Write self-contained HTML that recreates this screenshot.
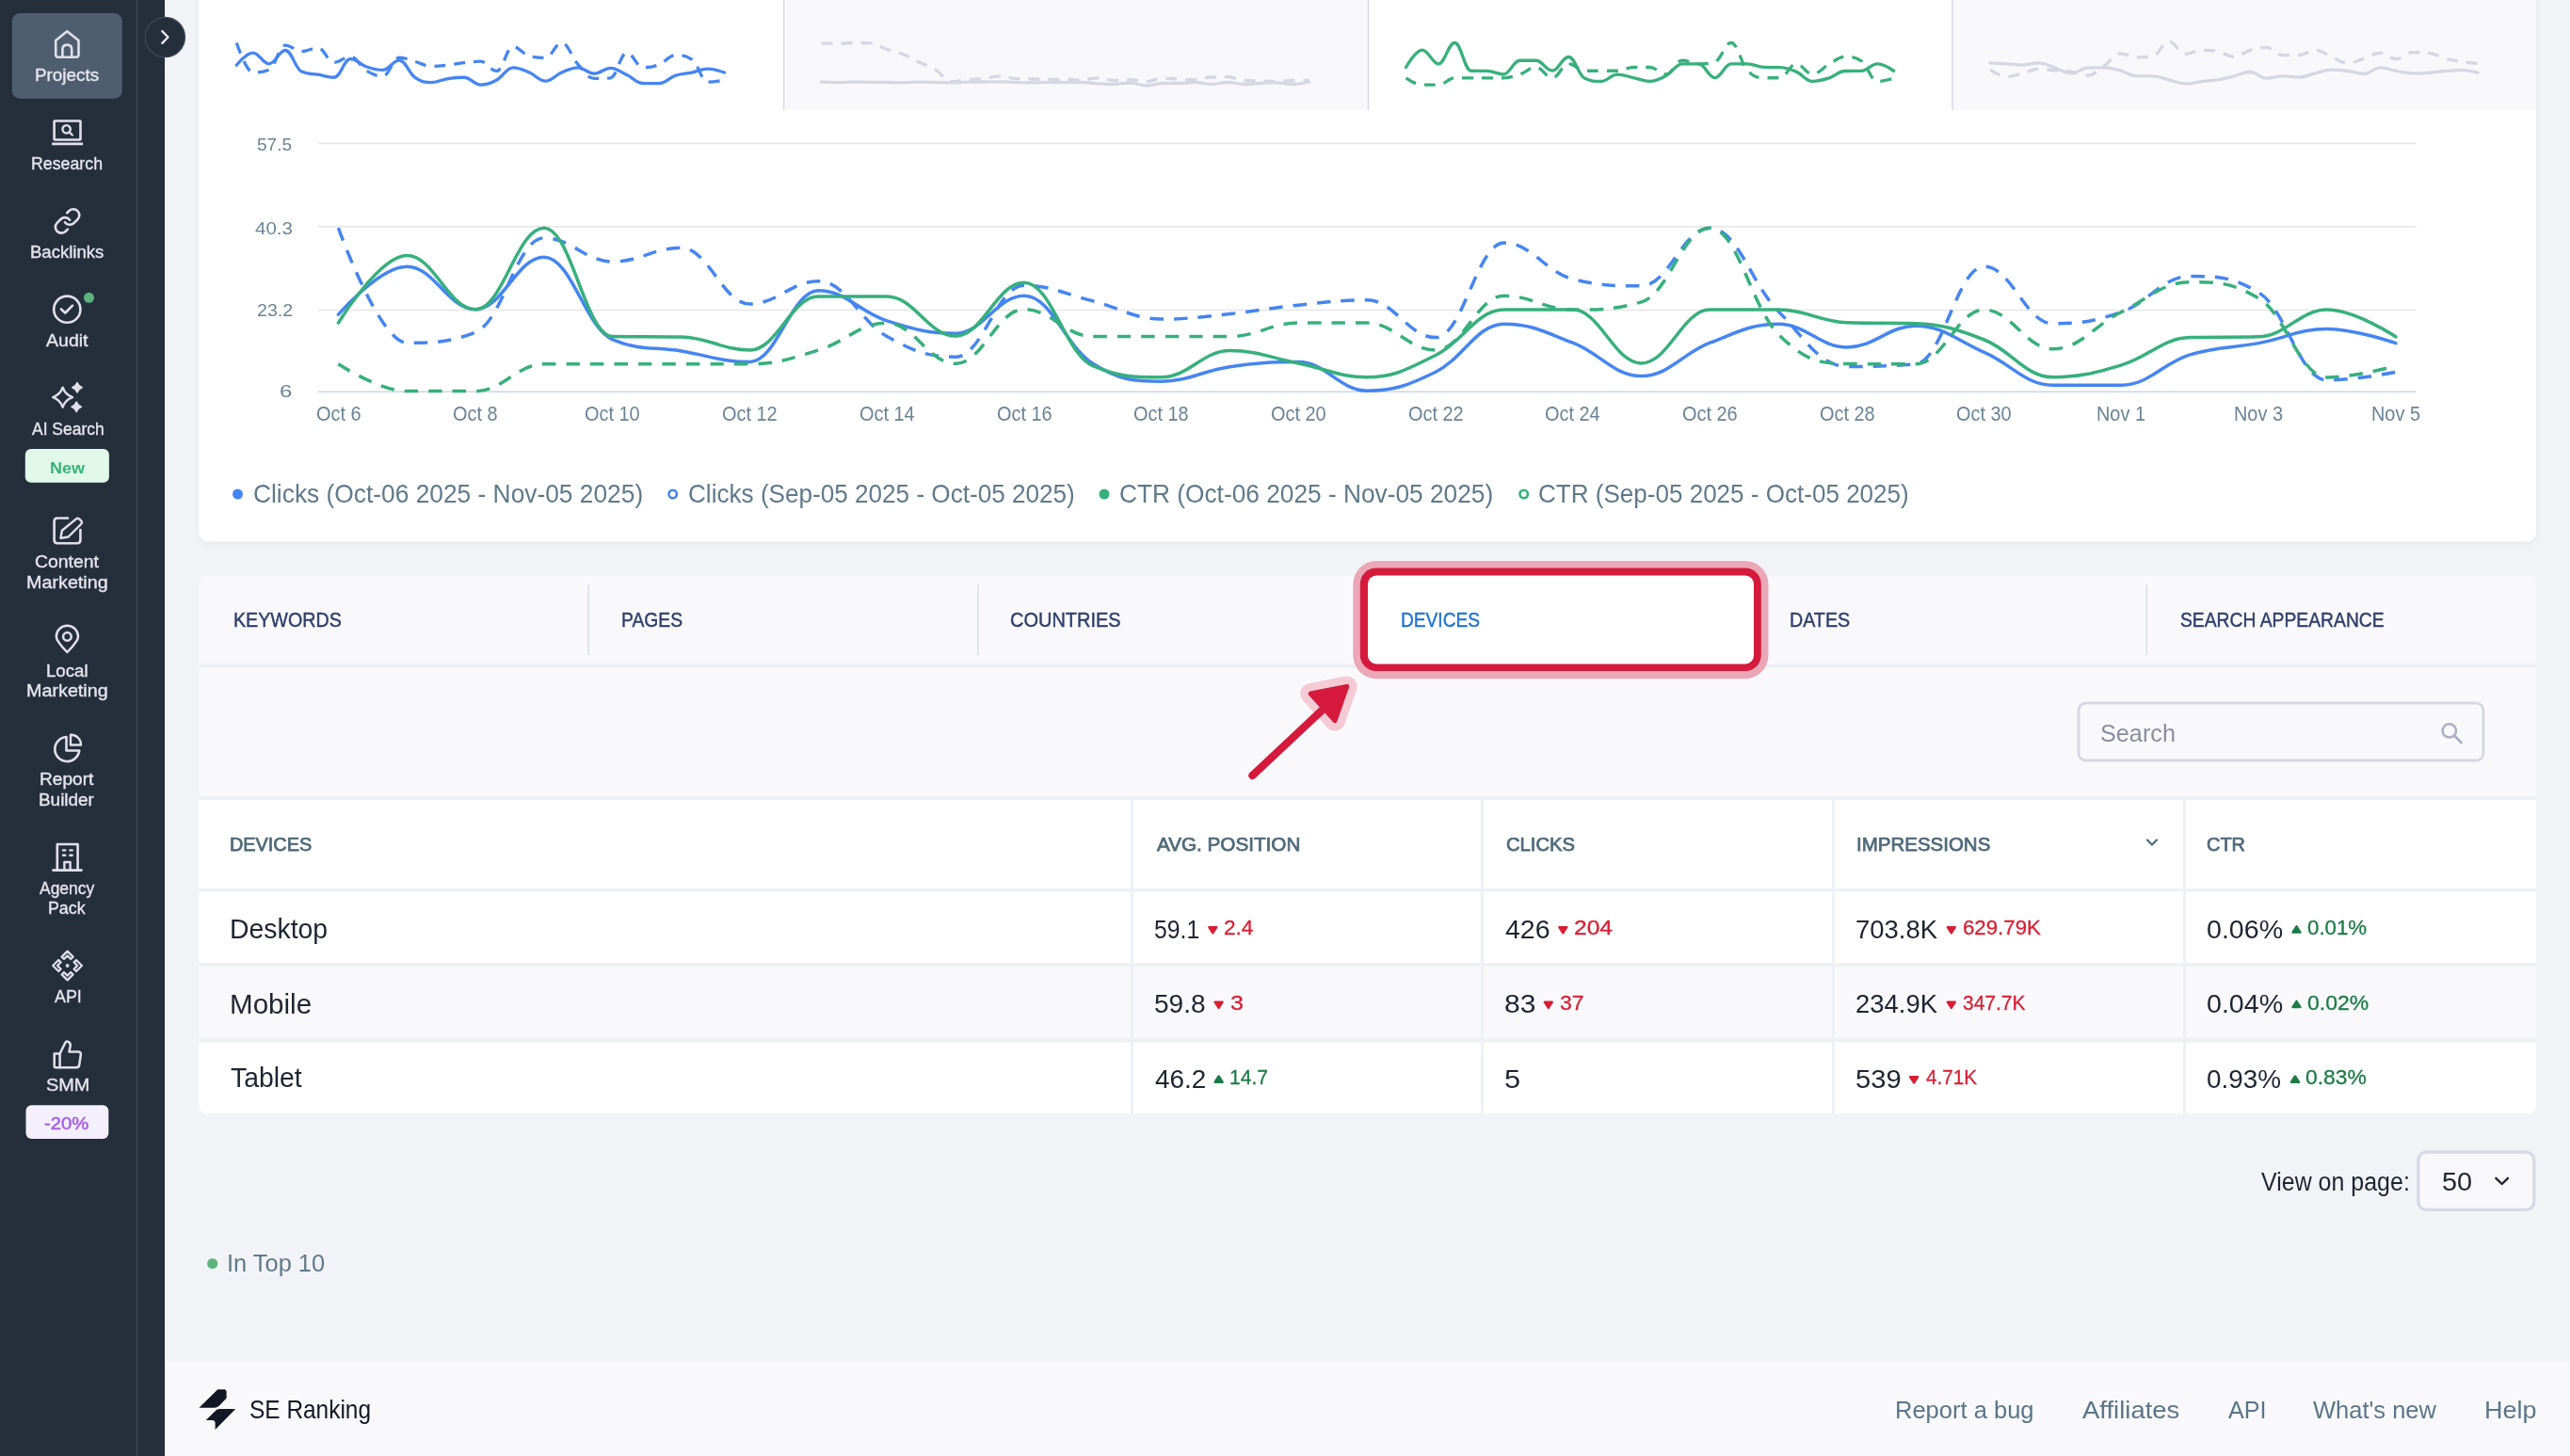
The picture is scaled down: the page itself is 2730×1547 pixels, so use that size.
<!DOCTYPE html>
<html><head><meta charset="utf-8"><style>
html,body{margin:0;padding:0;}
body{width:2730px;height:1547px;overflow:hidden;background:#f2f3f7;position:relative;font-family:"Liberation Sans",sans-serif;}
svg{position:absolute;left:0;top:0;}
.t{position:absolute;white-space:nowrap;line-height:1;transform-origin:0 50%;}
</style></head><body>
<svg width="2730" height="1547" viewBox="0 0 2730 1547">
<defs><filter id="sh" x="-5%" y="-5%" width="110%" height="120%"><feDropShadow dx="0" dy="2" stdDeviation="3" flood-color="#1a2030" flood-opacity="0.06"/></filter></defs>
<rect x="211.3" y="-20" width="2482.7" height="595.5" rx="10" fill="#fff" filter="url(#sh)"/>
<rect x="832.6" y="0" width="620.9" height="117" fill="#f8f8fb"/>
<line x1="832.6" y1="0" x2="832.6" y2="117" stroke="#dadae6" stroke-width="1.5"/>
<line x1="1453.5" y1="0" x2="1453.5" y2="117" stroke="#dadae6" stroke-width="1.5"/>
<rect x="2074.0" y="0" width="620.0" height="117" fill="#f8f8fb"/>
<line x1="2074.0" y1="0" x2="2074.0" y2="117" stroke="#dadae6" stroke-width="1.5"/>
<path d="M 251.30 45.49 C 251.30 45.49 261.66 76.96 268.57 76.96 C 275.48 76.96 278.93 76.96 285.84 74.07 C 292.75 71.18 296.20 48.22 303.11 48.22 C 310.02 48.22 313.47 54.72 320.38 54.72 C 327.29 54.72 330.74 50.91 337.65 50.91 C 344.56 50.91 348.01 66.33 354.92 66.33 C 361.83 66.33 365.28 60.06 372.19 60.06 C 379.10 60.06 382.55 71.08 389.46 75.23 C 396.37 79.39 399.82 80.83 406.73 80.83 C 413.64 80.83 417.09 61.23 424.00 61.23 C 430.91 61.23 434.36 63.66 441.27 65.51 C 448.18 67.36 451.63 70.49 458.54 70.49 C 465.45 70.49 468.90 69.81 475.81 69.04 C 482.72 68.27 486.17 67.41 493.08 66.64 C 499.99 65.88 503.44 65.22 510.35 65.22 C 517.26 65.22 520.71 75.52 527.62 75.52 C 534.53 75.52 537.98 49.59 544.89 49.59 C 551.80 49.59 555.25 57.61 562.16 59.50 C 569.07 61.38 572.52 61.38 579.43 61.38 C 586.34 61.38 589.79 45.49 596.70 45.49 C 603.61 45.49 607.06 60.78 613.97 68.37 C 620.88 75.97 624.33 83.47 631.24 83.47 C 638.15 83.47 641.60 83.47 648.51 82.77 C 655.42 82.07 658.87 56.07 665.78 56.07 C 672.69 56.07 676.14 71.70 683.05 71.70 C 689.96 71.70 693.41 71.12 700.32 68.53 C 707.23 65.93 710.68 58.72 717.59 58.72 C 724.50 58.72 727.95 58.72 734.86 63.16 C 741.77 67.60 745.22 87.21 752.13 87.21 C 759.04 87.21 769.40 84.99 769.40 84.99" fill="none" stroke="#4585f3" stroke-width="3.3" stroke-dasharray="12,9" stroke-linejoin="round"/>
<path d="M 251.30 69.22 C 251.30 69.22 261.66 56.07 268.57 56.07 C 275.48 56.07 278.93 67.80 285.84 67.80 C 292.75 67.80 296.20 53.49 303.11 53.49 C 310.02 53.49 313.47 72.94 320.38 76.09 C 327.29 79.23 330.74 78.01 337.65 79.23 C 344.56 80.46 348.01 82.23 354.92 82.23 C 361.83 82.23 365.28 62.64 372.19 62.64 C 379.10 62.64 382.55 68.60 389.46 70.95 C 396.37 73.30 399.82 74.38 406.73 74.38 C 413.64 74.38 417.09 64.09 424.00 64.09 C 430.91 64.09 434.36 77.97 441.27 82.67 C 448.18 87.36 451.63 87.54 458.54 87.54 C 465.45 87.54 468.90 84.61 475.81 83.54 C 482.72 82.48 486.17 82.23 493.08 82.23 C 499.99 82.23 503.44 90.12 510.35 90.12 C 517.26 90.12 520.71 88.63 527.62 84.96 C 534.53 81.30 537.98 71.80 544.89 71.80 C 551.80 71.80 555.25 74.10 562.16 76.96 C 569.07 79.82 572.52 86.10 579.43 86.10 C 586.34 86.10 589.79 79.82 596.70 76.96 C 603.61 74.10 607.06 71.80 613.97 71.80 C 620.88 71.80 624.33 78.20 631.24 78.20 C 638.15 78.20 641.60 72.32 648.51 72.32 C 655.42 72.32 658.87 76.34 665.78 79.60 C 672.69 82.85 676.14 88.57 683.05 88.57 C 689.96 88.57 693.41 88.57 700.32 88.57 C 707.23 88.57 710.68 82.54 717.59 80.24 C 724.50 77.94 727.95 78.49 734.86 77.07 C 741.77 75.65 745.22 73.15 752.13 73.15 C 759.04 73.15 769.40 77.07 769.40 77.07" fill="none" stroke="#4585f3" stroke-width="3.3" stroke-linecap="round" stroke-linejoin="round"/>
<path d="M 872.60 45.80 C 872.60 45.80 882.96 46.50 889.87 46.50 C 896.78 46.50 900.23 45.50 907.14 45.50 C 914.05 45.50 917.50 45.50 924.41 45.80 C 931.32 46.10 934.77 49.86 941.68 52.20 C 948.59 54.54 952.04 54.74 958.95 57.50 C 965.86 60.26 969.31 62.74 976.22 66.00 C 983.13 69.26 986.58 69.66 993.49 73.80 C 1000.40 77.94 1003.85 86.70 1010.76 86.70 C 1017.67 86.70 1021.12 85.44 1028.03 84.80 C 1034.94 84.16 1038.39 84.30 1045.30 83.50 C 1052.21 82.70 1055.66 80.80 1062.57 80.80 C 1069.48 80.80 1072.93 83.40 1079.84 83.70 C 1086.75 84.00 1090.20 83.84 1097.11 84.00 C 1104.02 84.16 1107.47 84.50 1114.38 84.50 C 1121.29 84.50 1124.74 84.20 1131.65 84.20 C 1138.56 84.20 1142.01 85.00 1148.92 85.00 C 1155.83 85.00 1159.28 82.80 1166.19 82.80 C 1173.10 82.80 1176.55 85.50 1183.46 85.50 C 1190.37 85.50 1193.82 84.70 1200.73 84.70 C 1207.64 84.70 1211.09 86.80 1218.00 86.80 C 1224.91 86.80 1228.36 83.00 1235.27 83.00 C 1242.18 83.00 1245.63 83.64 1252.54 84.00 C 1259.45 84.36 1262.90 84.80 1269.81 84.80 C 1276.72 84.80 1280.17 82.30 1287.08 82.00 C 1293.99 81.70 1297.44 81.70 1304.35 81.70 C 1311.26 81.70 1314.71 85.00 1321.62 85.50 C 1328.53 86.00 1331.98 85.80 1338.89 86.00 C 1345.80 86.20 1349.25 86.50 1356.16 86.50 C 1363.07 86.50 1366.52 85.50 1373.43 85.50 C 1380.34 85.50 1390.70 85.50 1390.70 85.50" fill="none" stroke="#d6d6e3" stroke-width="3.3" stroke-dasharray="12,9" stroke-linejoin="round"/>
<path d="M 872.60 87.20 C 872.60 87.20 882.96 87.60 889.87 87.60 C 896.78 87.60 900.23 87.00 907.14 87.00 C 914.05 87.00 917.50 87.20 924.41 87.30 C 931.32 87.40 934.77 87.40 941.68 87.50 C 948.59 87.60 952.04 87.80 958.95 87.80 C 965.86 87.80 969.31 87.10 976.22 87.10 C 983.13 87.10 986.58 87.24 993.49 87.40 C 1000.40 87.56 1003.85 87.90 1010.76 87.90 C 1017.67 87.90 1021.12 87.38 1028.03 87.20 C 1034.94 87.02 1038.39 87.08 1045.30 87.00 C 1052.21 86.92 1055.66 86.80 1062.57 86.80 C 1069.48 86.80 1072.93 87.40 1079.84 87.60 C 1086.75 87.80 1090.20 87.80 1097.11 87.80 C 1104.02 87.80 1107.47 87.40 1114.38 87.40 C 1121.29 87.40 1124.74 87.60 1131.65 87.60 C 1138.56 87.60 1142.01 87.50 1148.92 87.50 C 1155.83 87.50 1159.28 88.42 1166.19 88.80 C 1173.10 89.18 1176.55 89.40 1183.46 89.40 C 1190.37 89.40 1193.82 88.00 1200.73 88.00 C 1207.64 88.00 1211.09 91.00 1218.00 91.00 C 1224.91 91.00 1228.36 88.50 1235.27 88.50 C 1242.18 88.50 1245.63 88.50 1252.54 88.50 C 1259.45 88.50 1262.90 87.50 1269.81 87.50 C 1276.72 87.50 1280.17 89.50 1287.08 89.50 C 1293.99 89.50 1297.44 87.50 1304.35 87.50 C 1311.26 87.50 1314.71 89.50 1321.62 89.50 C 1328.53 89.50 1331.98 88.84 1338.89 88.50 C 1345.80 88.16 1349.25 87.80 1356.16 87.80 C 1363.07 87.80 1366.52 89.50 1373.43 89.50 C 1380.34 89.50 1390.70 87.00 1390.70 87.00" fill="none" stroke="#d6d6e3" stroke-width="3.3" stroke-linecap="round" stroke-linejoin="round"/>
<path d="M 1493.50 82.79 C 1493.50 82.79 1503.86 90.22 1510.77 90.22 C 1517.68 90.22 1521.13 90.22 1528.04 90.22 C 1534.95 90.22 1538.40 82.79 1545.31 82.79 C 1552.22 82.79 1555.67 82.79 1562.58 82.79 C 1569.49 82.79 1572.94 82.79 1579.85 82.79 C 1586.76 82.79 1590.21 82.79 1597.12 82.79 C 1604.03 82.79 1607.48 81.23 1614.39 78.98 C 1621.30 76.72 1624.75 71.52 1631.66 71.52 C 1638.57 71.52 1642.02 82.67 1648.93 82.67 C 1655.84 82.67 1659.29 67.80 1666.20 67.80 C 1673.11 67.80 1676.56 75.23 1683.47 75.23 C 1690.38 75.23 1693.83 75.23 1700.74 75.23 C 1707.65 75.23 1711.10 75.23 1718.01 75.23 C 1724.92 75.23 1728.37 71.52 1735.28 71.52 C 1742.19 71.52 1745.64 71.52 1752.55 71.52 C 1759.46 71.52 1762.91 78.95 1769.82 78.95 C 1776.73 78.95 1780.18 64.09 1787.09 64.09 C 1794.00 64.09 1797.45 67.91 1804.36 67.91 C 1811.27 67.91 1814.72 67.91 1821.63 65.79 C 1828.54 63.68 1831.99 45.49 1838.90 45.49 C 1845.81 45.49 1849.26 67.22 1856.17 74.67 C 1863.08 82.11 1866.53 82.67 1873.44 82.72 C 1880.35 82.77 1883.80 82.77 1890.71 82.77 C 1897.62 82.77 1901.07 67.91 1907.98 67.91 C 1914.89 67.91 1918.34 78.67 1925.25 78.67 C 1932.16 78.67 1935.61 72.20 1942.52 68.53 C 1949.43 64.86 1952.88 60.32 1959.79 60.32 C 1966.70 60.32 1970.15 60.32 1977.06 64.73 C 1983.97 69.15 1987.42 86.43 1994.33 86.43 C 2001.24 86.43 2011.60 83.28 2011.60 83.28" fill="none" stroke="#36b07c" stroke-width="3.3" stroke-dasharray="12,9" stroke-linejoin="round"/>
<path d="M 1493.50 71.49 C 1493.50 71.49 1503.86 53.05 1510.77 53.05 C 1517.68 53.05 1521.13 67.80 1528.04 67.80 C 1534.95 67.80 1538.40 45.49 1545.31 45.49 C 1552.22 45.49 1555.67 75.11 1562.58 75.23 C 1569.49 75.36 1572.94 75.23 1579.85 75.36 C 1586.76 75.49 1590.21 78.98 1597.12 78.98 C 1604.03 78.98 1607.48 64.27 1614.39 64.27 C 1621.30 64.27 1624.75 64.27 1631.66 64.27 C 1638.57 64.27 1642.02 75.11 1648.93 75.11 C 1655.84 75.11 1659.29 60.48 1666.20 60.48 C 1673.11 60.48 1676.56 80.11 1683.47 83.26 C 1690.38 86.41 1693.83 86.41 1700.74 86.41 C 1707.65 86.41 1711.10 79.13 1718.01 79.13 C 1724.92 79.13 1728.37 81.13 1735.28 82.59 C 1742.19 84.04 1745.64 86.41 1752.55 86.41 C 1759.46 86.41 1762.91 84.09 1769.82 80.39 C 1776.73 76.70 1780.18 67.91 1787.09 67.91 C 1794.00 67.91 1797.45 67.91 1804.36 67.91 C 1811.27 67.91 1814.72 82.56 1821.63 82.56 C 1828.54 82.56 1831.99 67.91 1838.90 67.91 C 1845.81 67.91 1849.26 67.91 1856.17 67.91 C 1863.08 67.91 1866.53 71.18 1873.44 71.44 C 1880.35 71.70 1883.80 71.44 1890.71 71.70 C 1897.62 71.96 1901.07 73.20 1907.98 76.14 C 1914.89 79.07 1918.34 86.38 1925.25 86.38 C 1932.16 86.38 1935.61 85.26 1942.52 83.08 C 1949.43 80.90 1952.88 75.67 1959.79 75.49 C 1966.70 75.31 1970.15 75.49 1977.06 75.31 C 1983.97 75.13 1987.42 67.91 1994.33 67.91 C 2001.24 67.91 2011.60 75.31 2011.60 75.31" fill="none" stroke="#36b07c" stroke-width="3.3" stroke-linecap="round" stroke-linejoin="round"/>
<path d="M 2114.00 74.10 C 2114.00 74.10 2124.36 81.40 2131.27 81.40 C 2138.18 81.40 2141.63 79.54 2148.54 77.90 C 2155.45 76.26 2158.90 73.20 2165.81 73.20 C 2172.72 73.20 2176.17 74.32 2183.08 74.90 C 2189.99 75.48 2193.44 75.04 2200.35 76.10 C 2207.26 77.16 2210.71 80.20 2217.62 80.20 C 2224.53 80.20 2227.98 74.98 2234.89 70.30 C 2241.80 65.62 2245.25 56.80 2252.16 56.80 C 2259.07 56.80 2262.52 60.90 2269.43 60.90 C 2276.34 60.90 2279.79 60.90 2286.70 59.80 C 2293.61 58.70 2297.06 44.00 2303.97 44.00 C 2310.88 44.00 2314.33 57.40 2321.24 57.40 C 2328.15 57.40 2331.60 53.30 2338.51 53.30 C 2345.42 53.30 2348.87 53.30 2355.78 54.50 C 2362.69 55.70 2366.14 60.30 2373.05 60.30 C 2379.96 60.30 2383.41 55.28 2390.32 53.30 C 2397.23 51.32 2400.68 50.40 2407.59 50.40 C 2414.50 50.40 2417.95 58.60 2424.86 58.60 C 2431.77 58.60 2435.22 58.60 2442.13 58.60 C 2449.04 58.60 2452.49 53.30 2459.40 53.30 C 2466.31 53.30 2469.76 57.54 2476.67 60.30 C 2483.58 63.06 2487.03 67.10 2493.94 67.10 C 2500.85 67.10 2504.30 64.26 2511.21 62.10 C 2518.12 59.94 2521.57 56.30 2528.48 56.30 C 2535.39 56.30 2538.84 62.70 2545.75 62.70 C 2552.66 62.70 2556.11 55.70 2563.02 55.70 C 2569.93 55.70 2573.38 55.70 2580.29 56.30 C 2587.20 56.90 2590.65 60.24 2597.56 62.10 C 2604.47 63.96 2607.92 64.54 2614.83 65.60 C 2621.74 66.66 2632.10 67.40 2632.10 67.40" fill="none" stroke="#d6d6e3" stroke-width="3.3" stroke-dasharray="12,9" stroke-linejoin="round"/>
<path d="M 2114.00 66.80 C 2114.00 66.80 2124.36 67.44 2131.27 67.90 C 2138.18 68.36 2141.63 69.10 2148.54 69.10 C 2155.45 69.10 2158.90 66.80 2165.81 66.80 C 2172.72 66.80 2176.17 69.78 2183.08 72.00 C 2189.99 74.22 2193.44 77.90 2200.35 77.90 C 2207.26 77.90 2210.71 72.20 2217.62 72.00 C 2224.53 71.80 2227.98 71.80 2234.89 71.80 C 2241.80 71.80 2245.25 73.10 2252.16 74.90 C 2259.07 76.70 2262.52 80.80 2269.43 80.80 C 2276.34 80.80 2279.79 80.80 2286.70 80.80 C 2293.61 80.80 2297.06 83.26 2303.97 84.90 C 2310.88 86.54 2314.33 89.00 2321.24 89.00 C 2328.15 89.00 2331.60 87.42 2338.51 86.60 C 2345.42 85.78 2348.87 86.06 2355.78 84.90 C 2362.69 83.74 2366.14 82.48 2373.05 80.80 C 2379.96 79.12 2383.41 76.50 2390.32 76.50 C 2397.23 76.50 2400.68 83.10 2407.59 83.10 C 2414.50 83.10 2417.95 80.80 2424.86 80.80 C 2431.77 80.80 2435.22 82.00 2442.13 82.00 C 2449.04 82.00 2452.49 79.48 2459.40 77.90 C 2466.31 76.32 2469.76 74.10 2476.67 74.10 C 2483.58 74.10 2487.03 74.64 2493.94 75.50 C 2500.85 76.36 2504.30 78.40 2511.21 78.40 C 2518.12 78.40 2521.57 71.80 2528.48 71.80 C 2535.39 71.80 2538.84 74.28 2545.75 75.50 C 2552.66 76.72 2556.11 77.90 2563.02 77.90 C 2569.93 77.90 2573.38 77.78 2580.29 77.30 C 2587.20 76.82 2590.65 76.08 2597.56 75.50 C 2604.47 74.92 2607.92 74.40 2614.83 74.40 C 2621.74 74.40 2632.10 77.30 2632.10 77.30" fill="none" stroke="#d6d6e3" stroke-width="3.3" stroke-linecap="round" stroke-linejoin="round"/>
<line x1="337.9" y1="152.4" x2="2566.5" y2="152.4" stroke="#e6e6e6" stroke-width="1.5"/>
<line x1="337.9" y1="240.8" x2="2566.5" y2="240.8" stroke="#e6e6e6" stroke-width="1.5"/>
<line x1="337.9" y1="329.5" x2="2566.5" y2="329.5" stroke="#e6e6e6" stroke-width="1.5"/>
<line x1="337.9" y1="416.2" x2="2566.5" y2="416.2" stroke="#ccd6eb" stroke-width="1.5"/>
<path d="M 359.40 334.20 C 359.40 334.20 403.11 283.20 432.25 283.20 C 461.39 283.20 475.96 328.70 505.10 328.70 C 534.24 328.70 548.81 273.20 577.95 273.20 C 607.09 273.20 621.66 348.60 650.80 360.80 C 679.94 373.00 694.51 368.24 723.65 373.00 C 752.79 377.76 767.36 384.60 796.50 384.60 C 825.64 384.60 840.21 308.70 869.35 308.70 C 898.49 308.70 913.06 331.80 942.20 340.90 C 971.34 350.00 985.91 354.20 1015.05 354.20 C 1044.19 354.20 1058.76 314.30 1087.90 314.30 C 1117.04 314.30 1131.61 368.12 1160.75 386.30 C 1189.89 404.48 1204.46 405.20 1233.60 405.20 C 1262.74 405.20 1277.31 393.82 1306.45 389.70 C 1335.59 385.58 1350.16 384.60 1379.30 384.60 C 1408.44 384.60 1423.01 415.20 1452.15 415.20 C 1481.29 415.20 1495.86 409.40 1525.00 395.20 C 1554.14 381.00 1568.71 344.20 1597.85 344.20 C 1626.99 344.20 1641.56 353.12 1670.70 364.20 C 1699.84 375.28 1714.41 399.60 1743.55 399.60 C 1772.69 399.60 1787.26 375.28 1816.40 364.20 C 1845.54 353.12 1860.11 344.20 1889.25 344.20 C 1918.39 344.20 1932.96 369.00 1962.10 369.00 C 1991.24 369.00 2005.81 346.20 2034.95 346.20 C 2064.09 346.20 2078.66 361.80 2107.80 374.40 C 2136.94 387.00 2151.51 409.20 2180.65 409.20 C 2209.79 409.20 2224.36 409.20 2253.50 409.20 C 2282.64 409.20 2297.21 385.82 2326.35 376.90 C 2355.49 367.98 2370.06 370.10 2399.20 364.60 C 2428.34 359.10 2442.91 349.40 2472.05 349.40 C 2501.19 349.40 2544.90 364.60 2544.90 364.60" fill="none" stroke="#4585f3" stroke-width="3.5" stroke-linecap="round" stroke-linejoin="round"/>
<path d="M 359.40 242.20 C 359.40 242.20 403.11 364.20 432.25 364.20 C 461.39 364.20 475.96 364.20 505.10 353.00 C 534.24 341.80 548.81 252.80 577.95 252.80 C 607.09 252.80 621.66 278.00 650.80 278.00 C 679.94 278.00 694.51 263.20 723.65 263.20 C 752.79 263.20 767.36 323.00 796.50 323.00 C 825.64 323.00 840.21 298.70 869.35 298.70 C 898.49 298.70 913.06 341.40 942.20 357.50 C 971.34 373.60 985.91 379.20 1015.05 379.20 C 1044.19 379.20 1058.76 303.20 1087.90 303.20 C 1117.04 303.20 1131.61 312.62 1160.75 319.80 C 1189.89 326.98 1204.46 339.10 1233.60 339.10 C 1262.74 339.10 1277.31 336.48 1306.45 333.50 C 1335.59 330.52 1350.16 327.16 1379.30 324.20 C 1408.44 321.24 1423.01 318.70 1452.15 318.70 C 1481.29 318.70 1495.86 358.60 1525.00 358.60 C 1554.14 358.60 1568.71 258.10 1597.85 258.10 C 1626.99 258.10 1641.56 289.20 1670.70 296.50 C 1699.84 303.80 1714.41 303.80 1743.55 303.80 C 1772.69 303.80 1787.26 242.20 1816.40 242.20 C 1845.54 242.20 1860.11 301.46 1889.25 330.90 C 1918.39 360.34 1932.96 389.40 1962.10 389.40 C 1991.24 389.40 2005.81 389.40 2034.95 386.70 C 2064.09 384.00 2078.66 283.20 2107.80 283.20 C 2136.94 283.20 2151.51 343.80 2180.65 343.80 C 2209.79 343.80 2224.36 341.56 2253.50 331.50 C 2282.64 321.44 2297.21 293.50 2326.35 293.50 C 2355.49 293.50 2370.06 293.50 2399.20 310.70 C 2428.34 327.90 2442.91 403.90 2472.05 403.90 C 2501.19 403.90 2544.90 395.30 2544.90 395.30" fill="none" stroke="#4585f3" stroke-width="3.5" stroke-dasharray="14.5,11" stroke-linejoin="round"/>
<path d="M 359.40 343.00 C 359.40 343.00 403.11 271.50 432.25 271.50 C 461.39 271.50 475.96 328.70 505.10 328.70 C 534.24 328.70 548.81 242.20 577.95 242.20 C 607.09 242.20 621.66 357.00 650.80 357.50 C 679.94 358.00 694.51 357.50 723.65 358.00 C 752.79 358.50 767.36 372.00 796.50 372.00 C 825.64 372.00 840.21 315.00 869.35 315.00 C 898.49 315.00 913.06 315.00 942.20 315.00 C 971.34 315.00 985.91 357.00 1015.05 357.00 C 1044.19 357.00 1058.76 300.30 1087.90 300.30 C 1117.04 300.30 1131.61 376.40 1160.75 388.60 C 1189.89 400.80 1204.46 400.80 1233.60 400.80 C 1262.74 400.80 1277.31 372.60 1306.45 372.60 C 1335.59 372.60 1350.16 380.36 1379.30 386.00 C 1408.44 391.64 1423.01 400.80 1452.15 400.80 C 1481.29 400.80 1495.86 391.84 1525.00 377.50 C 1554.14 363.16 1568.71 329.10 1597.85 329.10 C 1626.99 329.10 1641.56 329.10 1670.70 329.10 C 1699.84 329.10 1714.41 385.90 1743.55 385.90 C 1772.69 385.90 1787.26 329.10 1816.40 329.10 C 1845.54 329.10 1860.11 329.10 1889.25 329.10 C 1918.39 329.10 1932.96 341.80 1962.10 342.80 C 1991.24 343.80 2005.81 342.80 2034.95 343.80 C 2064.09 344.80 2078.66 349.62 2107.80 361.00 C 2136.94 372.38 2151.51 400.70 2180.65 400.70 C 2209.79 400.70 2224.36 396.34 2253.50 387.90 C 2282.64 379.46 2297.21 359.20 2326.35 358.50 C 2355.49 357.80 2370.06 358.50 2399.20 357.80 C 2428.34 357.10 2442.91 329.10 2472.05 329.10 C 2501.19 329.10 2544.90 357.80 2544.90 357.80" fill="none" stroke="#36b07c" stroke-width="3.5" stroke-linecap="round" stroke-linejoin="round"/>
<path d="M 359.40 386.80 C 359.40 386.80 403.11 415.60 432.25 415.60 C 461.39 415.60 475.96 415.60 505.10 415.60 C 534.24 415.60 548.81 386.80 577.95 386.80 C 607.09 386.80 621.66 386.80 650.80 386.80 C 679.94 386.80 694.51 386.80 723.65 386.80 C 752.79 386.80 767.36 386.80 796.50 386.80 C 825.64 386.80 840.21 380.74 869.35 372.00 C 898.49 363.26 913.06 343.10 942.20 343.10 C 971.34 343.10 985.91 386.30 1015.05 386.30 C 1044.19 386.30 1058.76 328.70 1087.90 328.70 C 1117.04 328.70 1131.61 357.50 1160.75 357.50 C 1189.89 357.50 1204.46 357.50 1233.60 357.50 C 1262.74 357.50 1277.31 357.50 1306.45 357.50 C 1335.59 357.50 1350.16 343.10 1379.30 343.10 C 1408.44 343.10 1423.01 343.10 1452.15 343.10 C 1481.29 343.10 1495.86 371.90 1525.00 371.90 C 1554.14 371.90 1568.71 314.30 1597.85 314.30 C 1626.99 314.30 1641.56 329.10 1670.70 329.10 C 1699.84 329.10 1714.41 329.10 1743.55 320.90 C 1772.69 312.70 1787.26 242.20 1816.40 242.20 C 1845.54 242.20 1860.11 326.44 1889.25 355.30 C 1918.39 384.16 1932.96 386.30 1962.10 386.50 C 1991.24 386.70 2005.81 386.70 2034.95 386.70 C 2064.09 386.70 2078.66 329.10 2107.80 329.10 C 2136.94 329.10 2151.51 370.80 2180.65 370.80 C 2209.79 370.80 2224.36 345.72 2253.50 331.50 C 2282.64 317.28 2297.21 299.70 2326.35 299.70 C 2355.49 299.70 2370.06 299.70 2399.20 316.80 C 2428.34 333.90 2442.91 400.90 2472.05 400.90 C 2501.19 400.90 2544.90 388.70 2544.90 388.70" fill="none" stroke="#36b07c" stroke-width="3.5" stroke-dasharray="14.5,11" stroke-linejoin="round"/>
<circle cx="252.5" cy="525" r="5.5" fill="#4585f3"/>
<circle cx="714.7" cy="525" r="4.2" fill="#fff" stroke="#4585f3" stroke-width="2.6"/>
<circle cx="1173" cy="525" r="5.5" fill="#36b07c"/>
<circle cx="1618.7" cy="525" r="4.2" fill="#fff" stroke="#36b07c" stroke-width="2.6"/>
<rect x="211.3" y="611.5" width="2482.7" height="571.8" rx="9" fill="#eef0f4"/>
<path d="M211.3 705.4 V620.5 Q211.3 611.5 220.3 611.5 H2685 Q2694 611.5 2694 620.5 V705.4 Z" fill="#f9f9fc"/>
<line x1="625.1" y1="621" x2="625.1" y2="696" stroke="#d9dce6" stroke-width="1.5"/>
<line x1="1038.9" y1="621" x2="1038.9" y2="696" stroke="#d9dce6" stroke-width="1.5"/>
<line x1="2280.3" y1="621" x2="2280.3" y2="696" stroke="#d9dce6" stroke-width="1.5"/>
<rect x="211.3" y="709.6" width="2482.7" height="136.2" fill="#f9f9fc"/>
<rect x="2208" y="747" width="430" height="61" rx="8" fill="#f9f9fb" stroke="#d6d6e4" stroke-width="2.8"/>
<circle cx="2601.8" cy="776.4" r="7.2" fill="none" stroke="#aeaec4" stroke-width="2.5"/>
<line x1="2607.2" y1="781.8" x2="2614.5" y2="789" stroke="#aeaec4" stroke-width="2.8" stroke-linecap="round"/>
<rect x="211.3" y="849.9" width="989.7" height="94.2" fill="#fff"/>
<rect x="1204.0" y="849.9" width="369.0" height="94.2" fill="#fff"/>
<rect x="1576.0" y="849.9" width="370.0" height="94.2" fill="#fff"/>
<rect x="1949.0" y="849.9" width="370.0" height="94.2" fill="#fff"/>
<rect x="2322.0" y="849.9" width="372.0" height="94.2" fill="#fff"/>
<rect x="211.3" y="947.6" width="989.7" height="75.6" fill="#fff"/>
<rect x="1204.0" y="947.6" width="369.0" height="75.6" fill="#fff"/>
<rect x="1576.0" y="947.6" width="370.0" height="75.6" fill="#fff"/>
<rect x="1949.0" y="947.6" width="370.0" height="75.6" fill="#fff"/>
<rect x="2322.0" y="947.6" width="372.0" height="75.6" fill="#fff"/>
<rect x="211.3" y="1026.8" width="989.7" height="75.8" fill="#f9f9fb"/>
<rect x="1204.0" y="1026.8" width="369.0" height="75.8" fill="#f9f9fb"/>
<rect x="1576.0" y="1026.8" width="370.0" height="75.8" fill="#f9f9fb"/>
<rect x="1949.0" y="1026.8" width="370.0" height="75.8" fill="#f9f9fb"/>
<rect x="2322.0" y="1026.8" width="372.0" height="75.8" fill="#f9f9fb"/>
<path d="M211.3 1107.4 H1201.0 V1183.3 H220.3 Q211.3 1183.3 211.3 1174.3 Z" fill="#fff"/>
<rect x="1204.0" y="1107.4" width="369.0" height="75.9" fill="#fff"/>
<rect x="1576.0" y="1107.4" width="370.0" height="75.9" fill="#fff"/>
<rect x="1949.0" y="1107.4" width="370.0" height="75.9" fill="#fff"/>
<path d="M2322.0 1107.4 H2694.0 V1174.3 Q2694.0 1183.3 2685.0 1183.3 H2322.0 Z" fill="#fff"/>
<rect x="1437.3" y="595.9" width="441.2" height="125.3" rx="25" fill="#eaa7b5"/>
<rect x="1444.8" y="603.4" width="426" height="109.6" rx="17" fill="#d51a3d"/>
<rect x="1453" y="611.5" width="410" height="93.9" rx="9" fill="#fff"/>
<path d="M2281 892.5 L2286 897.5 L2291 892.5" fill="none" stroke="#4f6a78" stroke-width="2.2" stroke-linecap="round" stroke-linejoin="round"/>
<rect x="2568.9" y="1224.1" width="123.0" height="61.2" rx="8.5" fill="#f8f8fb" stroke="#d7d7e5" stroke-width="3.2"/>
<path d="M2651.4 1251.8 L2657.7 1258 L2664 1251.8" fill="none" stroke="#1e2530" stroke-width="2.4" stroke-linecap="round" stroke-linejoin="round"/>
<circle cx="225.7" cy="1342.5" r="5.6" fill="#5db37f"/>
<rect x="175" y="1447" width="2555" height="100" fill="#f9f9fb"/>
<path d="M211.4 1495.8 L231.3 1476.2 H238.5 Q240.6 1476.2 240.6 1478.8 V1485.5 L233.5 1493.1 Q231 1495.8 228 1495.8 Z" fill="#141824"/>
<path d="M218.75 1509 L228.1 1499.8 Q230 1496.9 233 1496.9 H250.2 L228.6 1519 V1511.5 Q228.3 1509 226 1509 Z" fill="#141824"/>
<path d="M1392.2 737 L1430.7 729.4 L1418 765.6 Z" fill="#f4cbd4" stroke="#f4cbd4" stroke-width="22" stroke-linejoin="round"/>
<line x1="1330.4" y1="824" x2="1405" y2="754" stroke="#d51a3d" stroke-width="8.2" stroke-linecap="round"/>
<path d="M1392.2 737 L1430.7 729.4 L1418 765.6 Z" fill="#d51a3d" stroke="#d51a3d" stroke-width="5" stroke-linejoin="round"/>
<rect x="0" y="0" width="175" height="1547" fill="#252f3c"/>
<line x1="145.6" y1="0" x2="145.6" y2="1547" stroke="#3a4553" stroke-width="1.5"/>
<rect x="12.8" y="14.1" width="117" height="90.7" rx="8.5" fill="#4f5e6f"/>
<circle cx="175.3" cy="39.5" r="21.2" fill="#252f3c" stroke="#3e4a58" stroke-width="1.2"/>
<path d="M172.3 33.2 L178.5 39.5 L172.3 45.8" fill="none" stroke="#e8e9ef" stroke-width="2.4" stroke-linecap="round" stroke-linejoin="round"/>
<path d="M59.2 43 L71.3 33.3 L83.5 43 V58 Q83.5 60.8 80.7 60.8 H62 Q59.2 60.8 59.2 58 Z" fill="none" stroke="#dfe0ea" stroke-width="2.6" stroke-linecap="round" stroke-linejoin="round" />
<path d="M66.4 60.8 V52.5 Q66.4 47.6 71.3 47.6 Q76.2 47.6 76.2 52.5 V60.8" fill="none" stroke="#dfe0ea" stroke-width="2.6" stroke-linecap="round" stroke-linejoin="round" />
<path d="M58.2 128.5 H85 Q85.5 128.5 85.5 129 V148 Q85.5 148.5 85 148.5 H58.2 Q57.6 148.5 57.6 148 V129 Q57.6 128.5 58.2 128.5 Z" fill="none" stroke="#dfe0ea" stroke-width="2.6" stroke-linecap="round" stroke-linejoin="round" />
<path d="M55.1 152.9 H88.1" stroke="#dfe0ea" stroke-width="2.8"/>
<path d="M70.6 137.3 m-4.2 0 a4.2 4.2 0 1 0 8.4 0 a4.2 4.2 0 1 0 -8.4 0 M73.8 140.5 L76.8 143.5" fill="none" stroke="#dfe0ea" stroke-width="2.4" stroke-linecap="round" stroke-linejoin="round" />
<g transform="translate(56.2,219.6) scale(1.28)"><path d="M10 13a5 5 0 0 0 7.54.54l3-3a5 5 0 0 0-7.07-7.07l-1.72 1.71" fill="none" stroke="#dfe0ea" stroke-width="2.05" stroke-linecap="round" stroke-linejoin="round"/><path d="M14 11a5 5 0 0 0-7.54-.54l-3 3a5 5 0 0 0 7.07 7.07l1.71-1.71" fill="none" stroke="#dfe0ea" stroke-width="2.05" stroke-linecap="round" stroke-linejoin="round"/></g>
<circle cx="71.3" cy="328.7" r="14.1" fill="none" stroke="#dfe0ea" stroke-width="2.6"/>
<path d="M65 328.5 L69.3 332.5 L77 324.6" fill="none" stroke="#dfe0ea" stroke-width="2.6" stroke-linecap="round" stroke-linejoin="round" />
<circle cx="94.5" cy="316.3" r="5.5" fill="#5db37f"/>
<path d="M66.60 411.70 Q69.30 419.40 77.00 422.10 Q69.30 424.80 66.60 432.50 Q63.90 424.80 56.20 422.10 Q63.90 419.40 66.60 411.70 Z" fill="none" stroke="#dfe0ea" stroke-width="2.5" stroke-linecap="round" stroke-linejoin="round" />
<path d="M82.00 406.60 Q83.46 410.34 87.20 411.80 Q83.46 413.26 82.00 417.00 Q80.54 413.26 76.80 411.80 Q80.54 410.34 82.00 406.60 Z" fill="#dfe0ea" stroke="#dfe0ea" stroke-width="1.5" stroke-linejoin="round"/>
<path d="M81.20 427.10 Q82.66 430.84 86.40 432.30 Q82.66 433.76 81.20 437.50 Q79.74 433.76 76.00 432.30 Q79.74 430.84 81.20 427.10 Z" fill="#dfe0ea" stroke="#dfe0ea" stroke-width="1.5" stroke-linejoin="round"/>
<rect x="26.8" y="477" width="89.1" height="35.7" rx="6" fill="#e2f8e9"/>
<path d="M72 550.5 H61 Q57.6 550.5 57.6 554 V573.8 Q57.6 577.2 61 577.2 H82 Q85.4 577.2 85.4 573.8 V563" fill="none" stroke="#dfe0ea" stroke-width="2.6" stroke-linecap="round" stroke-linejoin="round" />
<path d="M80.6 551.6 Q82.5 549.7 84.4 551.6 L86 553.2 Q87.9 555.1 86 557 L72.5 570.5 L64.5 571.8 L65.8 563.8 Z" fill="none" stroke="#dfe0ea" stroke-width="2.4" stroke-linecap="round" stroke-linejoin="round" />
<path d="M71.4 693 Q59.8 681 59.8 676.4 A11.6 11.6 0 0 1 83 676.4 Q83 681 71.4 693 Z" fill="none" stroke="#dfe0ea" stroke-width="2.5" stroke-linecap="round" stroke-linejoin="round" />
<circle cx="71.4" cy="676.4" r="4.3" fill="none" stroke="#dfe0ea" stroke-width="2.5"/>
<path d="M70.5 783 A13 13 0 1 0 84.2 797.5 H70.5 Z" fill="none" stroke="#dfe0ea" stroke-width="2.6" stroke-linecap="round" stroke-linejoin="round" />
<path d="M75 780.8 A10.5 10.5 0 0 1 86 791.5 H75 Z" fill="none" stroke="#dfe0ea" stroke-width="2.4" stroke-linecap="round" stroke-linejoin="round" />
<path d="M60.8 924.3 V897 H82.6 V924.3" fill="none" stroke="#dfe0ea" stroke-width="2.6" stroke-linecap="round" stroke-linejoin="round" />
<path d="M56.5 924.6 H86.5" fill="none" stroke="#dfe0ea" stroke-width="2.8" stroke-linecap="round" stroke-linejoin="round" />
<path d="M67 903.4 H69.3 M74.4 903.4 H76.7 M67 908.8 H69.3 M74.4 908.8 H76.7" fill="none" stroke="#dfe0ea" stroke-width="2.4" stroke-linecap="round" stroke-linejoin="round" />
<path d="M68.4 924.3 V916 H74.6 V924.3" fill="none" stroke="#dfe0ea" stroke-width="2.4" stroke-linecap="round" stroke-linejoin="round" />
<path d="M66.8 1016 L71.6 1011.3 L76.4 1016 M64 1019 L71.6 1011.3" fill="none" stroke="#dfe0ea" stroke-width="0" stroke-linecap="round" stroke-linejoin="round" />
<g fill="none" stroke="#dfe0ea" stroke-width="2.2" stroke-linejoin="round"><path d="M65.6 1016.6 L71.6 1010.6 L77.6 1016.6 L75.2 1019 L71.6 1015.4 L68 1019 Z"/><path d="M65.6 1035.4 L71.6 1041.4 L77.6 1035.4 L75.2 1033 L71.6 1036.6 L68 1033 Z"/><path d="M62.2 1020 L56.2 1026 L62.2 1032 L64.6 1029.6 L61 1026 L64.6 1022.4 Z"/><path d="M81 1020 L87 1026 L81 1032 L78.6 1029.6 L82.2 1026 L78.6 1022.4 Z"/></g>
<circle cx="71.6" cy="1026" r="1.9" fill="#dfe0ea"/>
<path d="M57.7 1119.5 H63.6 V1134.3 H59.2 Q57.7 1134.3 57.7 1132.8 Z" fill="none" stroke="#dfe0ea" stroke-width="2.5" stroke-linecap="round" stroke-linejoin="round" />
<path d="M63.6 1119.5 L69.5 1107.5 Q70.3 1106 71.8 1106.6 Q75.5 1108 74.6 1112 L73.4 1117.5 H83 Q86.3 1117.5 85.8 1120.8 L84.2 1131.5 Q83.8 1134.3 81 1134.3 H63.6" fill="none" stroke="#dfe0ea" stroke-width="2.5" stroke-linecap="round" stroke-linejoin="round" />
<rect x="27.5" y="1174.3" width="87.8" height="35.7" rx="6" fill="#f3effd"/>
<path d="M1284.30 985.20 L1292.30 985.20 L1288.30 991.30 Z" fill="#d81e34" stroke="#d81e34" stroke-width="2.4" stroke-linejoin="round"/>
<path d="M1656.30 985.20 L1664.30 985.20 L1660.30 991.30 Z" fill="#d81e34" stroke="#d81e34" stroke-width="2.4" stroke-linejoin="round"/>
<path d="M2068.80 985.20 L2076.80 985.20 L2072.80 991.30 Z" fill="#d81e34" stroke="#d81e34" stroke-width="2.4" stroke-linejoin="round"/>
<path d="M2435.50 990.60 L2443.50 990.60 L2439.50 984.30 Z" fill="#1c7b47" stroke="#1c7b47" stroke-width="2.4" stroke-linejoin="round"/>
<path d="M1290.60 1064.70 L1298.60 1064.70 L1294.60 1070.80 Z" fill="#d81e34" stroke="#d81e34" stroke-width="2.4" stroke-linejoin="round"/>
<path d="M1640.80 1064.70 L1648.80 1064.70 L1644.80 1070.80 Z" fill="#d81e34" stroke="#d81e34" stroke-width="2.4" stroke-linejoin="round"/>
<path d="M2068.80 1064.70 L2076.80 1064.70 L2072.80 1070.80 Z" fill="#d81e34" stroke="#d81e34" stroke-width="2.4" stroke-linejoin="round"/>
<path d="M2435.50 1070.10 L2443.50 1070.10 L2439.50 1063.80 Z" fill="#1c7b47" stroke="#1c7b47" stroke-width="2.4" stroke-linejoin="round"/>
<path d="M1290.60 1149.70 L1298.60 1149.70 L1294.60 1143.40 Z" fill="#1c7b47" stroke="#1c7b47" stroke-width="2.4" stroke-linejoin="round"/>
<path d="M2029.10 1144.30 L2037.10 1144.30 L2033.10 1150.40 Z" fill="#d81e34" stroke="#d81e34" stroke-width="2.4" stroke-linejoin="round"/>
<path d="M2434.00 1149.70 L2442.00 1149.70 L2438.00 1143.40 Z" fill="#1c7b47" stroke="#1c7b47" stroke-width="2.4" stroke-linejoin="round"/>
</svg>
<div class="t" style="left:36.94px;top:72.09px;font-size:17.73px;color:#e4e5ed;transform:scaleX(1.0633);-webkit-text-stroke:0.35px #e4e5ed;">Projects</div>
<div class="t" style="left:33.23px;top:165.89px;font-size:17.73px;color:#e4e5ed;transform:scaleX(1.0024);-webkit-text-stroke:0.35px #e4e5ed;">Research</div>
<div class="t" style="left:31.76px;top:260.09px;font-size:17.73px;color:#e4e5ed;transform:scaleX(1.0469);-webkit-text-stroke:0.35px #e4e5ed;">Backlinks</div>
<div class="t" style="left:49.20px;top:354.19px;font-size:17.73px;color:#e4e5ed;transform:scaleX(1.1030);-webkit-text-stroke:0.35px #e4e5ed;">Audit</div>
<div class="t" style="left:33.60px;top:448.09px;font-size:17.73px;color:#e4e5ed;transform:scaleX(0.9857);-webkit-text-stroke:0.35px #e4e5ed;">AI Search</div>
<div class="t" style="left:52.53px;top:489.16px;font-size:17.30px;color:#35b47b;font-weight:700;transform:scaleX(1.0404);">New</div>
<div class="t" style="left:36.98px;top:589.29px;font-size:17.73px;color:#e4e5ed;transform:scaleX(1.0951);-webkit-text-stroke:0.35px #e4e5ed;">Content</div>
<div class="t" style="left:28.17px;top:610.59px;font-size:17.73px;color:#e4e5ed;transform:scaleX(1.1146);-webkit-text-stroke:0.35px #e4e5ed;">Marketing</div>
<div class="t" style="left:49.16px;top:704.59px;font-size:17.73px;color:#e4e5ed;transform:scaleX(1.0525);-webkit-text-stroke:0.35px #e4e5ed;">Local</div>
<div class="t" style="left:28.17px;top:725.99px;font-size:17.73px;color:#e4e5ed;transform:scaleX(1.1146);-webkit-text-stroke:0.35px #e4e5ed;">Marketing</div>
<div class="t" style="left:42.07px;top:820.49px;font-size:17.73px;color:#e4e5ed;transform:scaleX(1.0795);-webkit-text-stroke:0.35px #e4e5ed;">Report</div>
<div class="t" style="left:41.43px;top:841.59px;font-size:17.73px;color:#e4e5ed;transform:scaleX(1.0680);-webkit-text-stroke:0.35px #e4e5ed;">Builder</div>
<div class="t" style="left:42.35px;top:935.69px;font-size:17.73px;color:#e4e5ed;transform:scaleX(0.9858);-webkit-text-stroke:0.35px #e4e5ed;">Agency</div>
<div class="t" style="left:50.98px;top:956.89px;font-size:17.73px;color:#e4e5ed;transform:scaleX(1.0043);-webkit-text-stroke:0.35px #e4e5ed;">Pack</div>
<div class="t" style="left:57.85px;top:1050.89px;font-size:17.73px;color:#e4e5ed;transform:scaleX(1.0054);-webkit-text-stroke:0.35px #e4e5ed;">API</div>
<div class="t" style="left:48.51px;top:1144.79px;font-size:17.73px;color:#e4e5ed;transform:scaleX(1.1202);-webkit-text-stroke:0.35px #e4e5ed;">SMM</div>
<div class="t" style="left:47.39px;top:1184.99px;font-size:18.31px;color:#a75ee6;transform:scaleX(1.1090);-webkit-text-stroke:0.50px #a75ee6;">-20%</div>
<div class="t" style="left:273.24px;top:145.25px;font-size:18.50px;color:#6b8493;transform:scaleX(1.0317);">57.5</div>
<div class="t" style="left:270.59px;top:233.65px;font-size:18.50px;color:#6b8493;transform:scaleX(1.1067);">40.3</div>
<div class="t" style="left:272.52px;top:321.15px;font-size:18.50px;color:#6b8493;transform:scaleX(1.0575);">23.2</div>
<div class="t" style="left:297.31px;top:406.75px;font-size:18.50px;color:#6b8493;transform:scaleX(1.2901);">6</div>
<div class="t" style="left:335.58px;top:428.83px;font-size:21.22px;color:#6b8493;transform:scaleX(0.9375);">Oct 6</div>
<div class="t" style="left:481.28px;top:428.83px;font-size:21.22px;color:#6b8493;transform:scaleX(0.9375);">Oct 8</div>
<div class="t" style="left:621.40px;top:428.83px;font-size:21.22px;color:#6b8493;transform:scaleX(0.9375);">Oct 10</div>
<div class="t" style="left:767.25px;top:428.83px;font-size:21.22px;color:#6b8493;transform:scaleX(0.9375);">Oct 12</div>
<div class="t" style="left:912.75px;top:428.83px;font-size:21.22px;color:#6b8493;transform:scaleX(0.9375);">Oct 14</div>
<div class="t" style="left:1058.55px;top:428.83px;font-size:21.22px;color:#6b8493;transform:scaleX(0.9375);">Oct 16</div>
<div class="t" style="left:1204.25px;top:428.83px;font-size:21.22px;color:#6b8493;transform:scaleX(0.9375);">Oct 18</div>
<div class="t" style="left:1349.90px;top:428.83px;font-size:21.22px;color:#6b8493;transform:scaleX(0.9375);">Oct 20</div>
<div class="t" style="left:1495.75px;top:428.83px;font-size:21.22px;color:#6b8493;transform:scaleX(0.9375);">Oct 22</div>
<div class="t" style="left:1641.25px;top:428.83px;font-size:21.22px;color:#6b8493;transform:scaleX(0.9375);">Oct 24</div>
<div class="t" style="left:1787.05px;top:428.83px;font-size:21.22px;color:#6b8493;transform:scaleX(0.9375);">Oct 26</div>
<div class="t" style="left:1932.75px;top:428.83px;font-size:21.22px;color:#6b8493;transform:scaleX(0.9375);">Oct 28</div>
<div class="t" style="left:2078.40px;top:428.83px;font-size:21.22px;color:#6b8493;transform:scaleX(0.9375);">Oct 30</div>
<div class="t" style="left:2227.19px;top:428.83px;font-size:21.22px;color:#6b8493;transform:scaleX(0.9375);">Nov 1</div>
<div class="t" style="left:2372.84px;top:428.83px;font-size:21.22px;color:#6b8493;transform:scaleX(0.9375);">Nov 3</div>
<div class="t" style="left:2518.54px;top:428.83px;font-size:21.22px;color:#6b8493;transform:scaleX(0.9375);">Nov 5</div>
<div class="t" style="left:268.68px;top:512.03px;font-size:26.89px;color:#5f7a89;transform:scaleX(0.9798);">Clicks (Oct-06 2025 - Nov-05 2025)</div>
<div class="t" style="left:730.69px;top:512.03px;font-size:26.89px;color:#5f7a89;transform:scaleX(0.9717);">Clicks (Sep-05 2025 - Oct-05 2025)</div>
<div class="t" style="left:1188.69px;top:512.03px;font-size:26.89px;color:#5f7a89;transform:scaleX(0.9775);">CTR (Oct-06 2025 - Nov-05 2025)</div>
<div class="t" style="left:1633.70px;top:512.03px;font-size:26.89px;color:#5f7a89;transform:scaleX(0.9691);">CTR (Sep-05 2025 - Oct-05 2025)</div>
<div class="t" style="left:247.63px;top:647.52px;font-size:22.53px;color:#2f3e6c;transform:scaleX(0.8737);-webkit-text-stroke:0.45px #2f3e6c;">KEYWORDS</div>
<div class="t" style="left:659.96px;top:647.52px;font-size:22.53px;color:#2f3e6c;transform:scaleX(0.8563);-webkit-text-stroke:0.45px #2f3e6c;">PAGES</div>
<div class="t" style="left:1073.00px;top:647.52px;font-size:22.53px;color:#2f3e6c;transform:scaleX(0.8870);-webkit-text-stroke:0.45px #2f3e6c;">COUNTRIES</div>
<div class="t" style="left:1488.07px;top:647.52px;font-size:22.53px;color:#1f74d4;transform:scaleX(0.8503);-webkit-text-stroke:0.45px #1f74d4;">DEVICES</div>
<div class="t" style="left:1901.43px;top:647.52px;font-size:22.53px;color:#2f3e6c;transform:scaleX(0.8736);-webkit-text-stroke:0.45px #2f3e6c;">DATES</div>
<div class="t" style="left:2315.53px;top:647.52px;font-size:22.53px;color:#2f3e6c;transform:scaleX(0.8571);-webkit-text-stroke:0.45px #2f3e6c;">SEARCH APPEARANCE</div>
<div class="t" style="left:2230.66px;top:765.60px;font-size:26.45px;color:#8d8d9e;transform:scaleX(0.9540);">Search</div>
<div class="t" style="left:244.11px;top:887.74px;font-size:19.91px;color:#4f6a78;transform:scaleX(0.9973);-webkit-text-stroke:0.75px #4f6a78;">DEVICES</div>
<div class="t" style="left:1228.50px;top:887.74px;font-size:19.91px;color:#4f6a78;transform:scaleX(1.0381);-webkit-text-stroke:0.75px #4f6a78;">AVG. POSITION</div>
<div class="t" style="left:1599.79px;top:887.74px;font-size:19.91px;color:#4f6a78;transform:scaleX(1.0144);-webkit-text-stroke:0.75px #4f6a78;">CLICKS</div>
<div class="t" style="left:1971.56px;top:887.74px;font-size:19.91px;color:#4f6a78;transform:scaleX(1.0295);-webkit-text-stroke:0.75px #4f6a78;">IMPRESSIONS</div>
<div class="t" style="left:2344.21px;top:887.74px;font-size:19.91px;color:#4f6a78;transform:scaleX(1.0010);-webkit-text-stroke:0.75px #4f6a78;">CTR</div>
<div class="t" style="left:243.73px;top:971.77px;font-size:29.80px;color:#1e2530;transform:scaleX(0.9524);">Desktop</div>
<div class="t" style="left:243.63px;top:1051.57px;font-size:29.80px;color:#1e2530;transform:scaleX(0.9925);">Mobile</div>
<div class="t" style="left:245.43px;top:1130.37px;font-size:29.80px;color:#1e2530;transform:scaleX(0.9509);">Tablet</div>
<div class="t" style="left:1226.31px;top:973.57px;font-size:27.12px;color:#1e2530;transform:scaleX(0.9139);">59.1</div>
<div class="t" style="left:1300.27px;top:975.17px;font-size:21.75px;color:#d81e34;transform:scaleX(1.0388);-webkit-text-stroke:0.30px #d81e34;">2.4</div>
<div class="t" style="left:1599.03px;top:973.57px;font-size:27.12px;color:#1e2530;transform:scaleX(1.0523);">426</div>
<div class="t" style="left:1672.17px;top:975.17px;font-size:21.75px;color:#d81e34;transform:scaleX(1.1283);-webkit-text-stroke:0.30px #d81e34;">204</div>
<div class="t" style="left:1970.93px;top:973.57px;font-size:27.12px;color:#1e2530;transform:scaleX(1.0126);">703.8K</div>
<div class="t" style="left:2084.89px;top:975.17px;font-size:21.75px;color:#d81e34;transform:scaleX(1.0223);-webkit-text-stroke:0.30px #d81e34;">629.79K</div>
<div class="t" style="left:2343.96px;top:973.57px;font-size:27.12px;color:#1e2530;transform:scaleX(1.0555);">0.06%</div>
<div class="t" style="left:2450.91px;top:975.17px;font-size:21.75px;color:#1c7b47;transform:scaleX(1.0244);-webkit-text-stroke:0.30px #1c7b47;">0.01%</div>
<div class="t" style="left:1226.18px;top:1053.07px;font-size:27.12px;color:#1e2530;transform:scaleX(1.0341);">59.8</div>
<div class="t" style="left:1306.60px;top:1054.67px;font-size:21.75px;color:#d81e34;transform:scaleX(1.1518);-webkit-text-stroke:0.30px #d81e34;">3</div>
<div class="t" style="left:1598.25px;top:1053.07px;font-size:27.12px;color:#1e2530;transform:scaleX(1.1080);">83</div>
<div class="t" style="left:1656.88px;top:1054.67px;font-size:21.75px;color:#d81e34;transform:scaleX(1.0547);-webkit-text-stroke:0.30px #d81e34;">37</div>
<div class="t" style="left:1970.93px;top:1053.07px;font-size:27.12px;color:#1e2530;transform:scaleX(1.0126);">234.9K</div>
<div class="t" style="left:2085.16px;top:1054.67px;font-size:21.75px;color:#d81e34;transform:scaleX(0.9652);-webkit-text-stroke:0.30px #d81e34;">347.7K</div>
<div class="t" style="left:2343.96px;top:1053.07px;font-size:27.12px;color:#1e2530;transform:scaleX(1.0555);">0.04%</div>
<div class="t" style="left:2450.88px;top:1054.67px;font-size:21.75px;color:#1c7b47;transform:scaleX(1.0594);-webkit-text-stroke:0.30px #1c7b47;">0.02%</div>
<div class="t" style="left:1226.74px;top:1132.67px;font-size:27.12px;color:#1e2530;transform:scaleX(1.0286);">46.2</div>
<div class="t" style="left:1306.02px;top:1134.27px;font-size:21.75px;color:#1c7b47;transform:scaleX(0.9675);-webkit-text-stroke:0.30px #1c7b47;">14.7</div>
<div class="t" style="left:1598.37px;top:1132.67px;font-size:27.12px;color:#1e2530;transform:scaleX(1.1334);">5</div>
<div class="t" style="left:1971.13px;top:1132.67px;font-size:27.12px;color:#1e2530;transform:scaleX(1.0759);">539</div>
<div class="t" style="left:2045.59px;top:1134.27px;font-size:21.75px;color:#d81e34;transform:scaleX(0.9480);-webkit-text-stroke:0.30px #d81e34;">4.71K</div>
<div class="t" style="left:2343.99px;top:1132.67px;font-size:27.12px;color:#1e2530;transform:scaleX(1.0274);">0.93%</div>
<div class="t" style="left:2449.39px;top:1134.27px;font-size:21.75px;color:#1c7b47;transform:scaleX(1.0494);-webkit-text-stroke:0.30px #1c7b47;">0.83%</div>
<div class="t" style="left:2402.48px;top:1241.33px;font-size:28.20px;color:#1e2530;transform:scaleX(0.8860);">View on page:</div>
<div class="t" style="left:2593.54px;top:1241.73px;font-size:27.40px;color:#1e2530;transform:scaleX(1.0543);">50</div>
<div class="t" style="left:240.71px;top:1329.27px;font-size:26.02px;color:#5f7a88;transform:scaleX(0.9769);">In Top 10</div>
<div class="t" style="left:265.30px;top:1485.31px;font-size:27.03px;color:#141824;transform:scaleX(0.9043);">SE Ranking</div>
<div class="t" style="left:2013.36px;top:1485.28px;font-size:26.60px;color:#5b7686;transform:scaleX(0.9594);">Report a bug</div>
<div class="t" style="left:2211.70px;top:1485.28px;font-size:26.60px;color:#5b7686;transform:scaleX(1.0325);">Affiliates</div>
<div class="t" style="left:2366.60px;top:1485.28px;font-size:26.60px;color:#5b7686;transform:scaleX(0.9473);">API</div>
<div class="t" style="left:2457.27px;top:1485.28px;font-size:26.60px;color:#5b7686;transform:scaleX(0.9584);">What's new</div>
<div class="t" style="left:2638.54px;top:1485.28px;font-size:26.60px;color:#5b7686;transform:scaleX(1.0162);">Help</div>
</body></html>
